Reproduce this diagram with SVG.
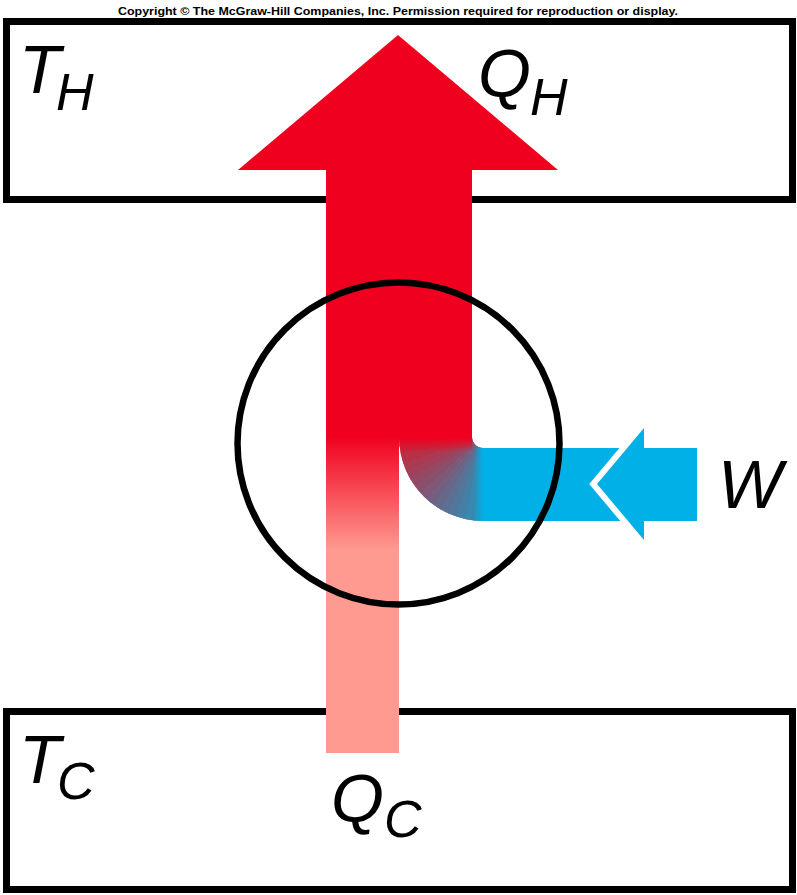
<svg xmlns="http://www.w3.org/2000/svg" width="797" height="895" viewBox="0 0 797 895">
<style>
.box{fill:#fff;stroke:#000;stroke-width:7}
.lbl{font-family:"Liberation Sans",Arial,sans-serif;font-style:italic;fill:#000;font-size:68px}
.sub{font-size:52px}
.w{fill:currentColor;stroke:currentColor;stroke-width:1}
.copy{font-family:"Liberation Sans Narrow","Liberation Sans",Arial,sans-serif;font-weight:bold;font-size:11.5px;fill:#000}
</style>
<defs>
<linearGradient id="coolShaft" gradientUnits="userSpaceOnUse" x1="0" y1="437" x2="0" y2="550">
<stop offset="0" stop-color="#F0001E"/>
<stop offset="1" stop-color="#FF9A90"/>
</linearGradient>
<linearGradient id="redFade" gradientUnits="userSpaceOnUse" x1="0" y1="436" x2="0" y2="452">
<stop offset="0" stop-color="#F0001E" stop-opacity="1"/>
<stop offset="1" stop-color="#F0001E" stop-opacity="0"/>
</linearGradient>
<linearGradient id="blueFade" gradientUnits="userSpaceOnUse" x1="474" y1="0" x2="484" y2="0">
<stop offset="0" stop-color="#00B0E6" stop-opacity="0"/>
<stop offset="1" stop-color="#00B0E6" stop-opacity="1"/>
</linearGradient>
<clipPath id="bendClip">
<path d="M399,437 A84,84 0 0 0 483,521 L483,448 A11,11 0 0 1 472,437 Z"/>
</clipPath>
</defs>
<rect width="797" height="895" fill="#fff"/>
<text class="copy" x="118" y="15" textLength="560" lengthAdjust="spacingAndGlyphs">Copyright © The McGraw-Hill Companies, Inc. Permission required for reproduction or display.</text>

<g id="hot-reservoir">
<rect class="box" x="6.5" y="21.5" width="786" height="178"/>
</g>
<g id="cold-reservoir">
<rect class="box" x="6.5" y="711.5" width="786" height="178"/>
</g>

<g id="connectors">
<polygon id="heat-out" points="398,35 558,170 472,170 472,437.5 326,437.5 326,170 238,170" fill="#F0001E"/>
<rect id="heat-in" x="326" y="437" width="73" height="316" fill="url(#coolShaft)"/>
<g id="bend" clip-path="url(#bendClip)">
<polygon class="w" style="color:rgb(206,32,53)" points="483,437 399,437 399.46,445.78"/>
<polygon class="w" style="color:rgb(195,40,62)" points="483,437 399.46,445.78 400.84,454.46"/>
<polygon class="w" style="color:rgb(184,48,71)" points="483,437 400.84,454.46 403.11,462.96"/>
<polygon class="w" style="color:rgb(172,56,81)" points="483,437 403.11,462.96 406.26,471.17"/>
<polygon class="w" style="color:rgb(160,64,90)" points="483,437 406.26,471.17 410.25,479"/>
<polygon class="w" style="color:rgb(149,72,99)" points="483,437 410.25,479 415.04,486.37"/>
<polygon class="w" style="color:rgb(137,80,109)" points="483,437 415.04,486.37 420.58,493.21"/>
<polygon class="w" style="color:rgb(126,88,118)" points="483,437 420.58,493.21 426.79,499.42"/>
<polygon class="w" style="color:rgb(114,96,128)" points="483,437 426.79,499.42 433.63,504.96"/>
<polygon class="w" style="color:rgb(102,104,138)" points="483,437 433.63,504.96 441,509.75"/>
<polygon class="w" style="color:rgb(91,112,147)" points="483,437 441,509.75 448.83,513.74"/>
<polygon class="w" style="color:rgb(80,120,156)" points="483,437 448.83,513.74 457.04,516.89"/>
<polygon class="w" style="color:rgb(68,128,166)" points="483,437 457.04,516.89 465.54,519.16"/>
<polygon class="w" style="color:rgb(57,136,175)" points="483,437 465.54,519.16 474.22,520.54"/>
<polygon class="w" style="color:rgb(46,144,184)" points="483,437 474.22,520.54 483,521"/>
<rect x="399" y="436" width="73" height="16" fill="url(#redFade)"/>
<rect x="474" y="448" width="10" height="73" fill="url(#blueFade)"/>
</g>
<rect id="work-band" x="482.5" y="448" width="162" height="73" fill="#00B0E6"/>
<polygon id="work-in" points="597,484 644,428 644,448 697,448 697,521 644,521 644,540" fill="#00B0E6" stroke="#fff" stroke-width="12" stroke-linejoin="miter" paint-order="stroke"/>
</g>

<g id="engine">
<circle cx="398.5" cy="443.5" r="161" fill="none" stroke="#000" stroke-width="6.5"/>
</g>

<g id="labels">
<text class="lbl"><tspan x="19" y="93">T</tspan><tspan class="sub" x="56" y="110">H</tspan></text>
<text class="lbl"><tspan x="478" y="97">Q</tspan><tspan class="sub" x="530" y="115">H</tspan></text>
<text class="lbl" x="718" y="508">W</text>
<text class="lbl"><tspan x="19" y="783">T</tspan><tspan class="sub" x="57" y="799">C</tspan></text>
<text class="lbl"><tspan x="331" y="822">Q</tspan><tspan class="sub" x="384" y="837">C</tspan></text>
</g>
</svg>
